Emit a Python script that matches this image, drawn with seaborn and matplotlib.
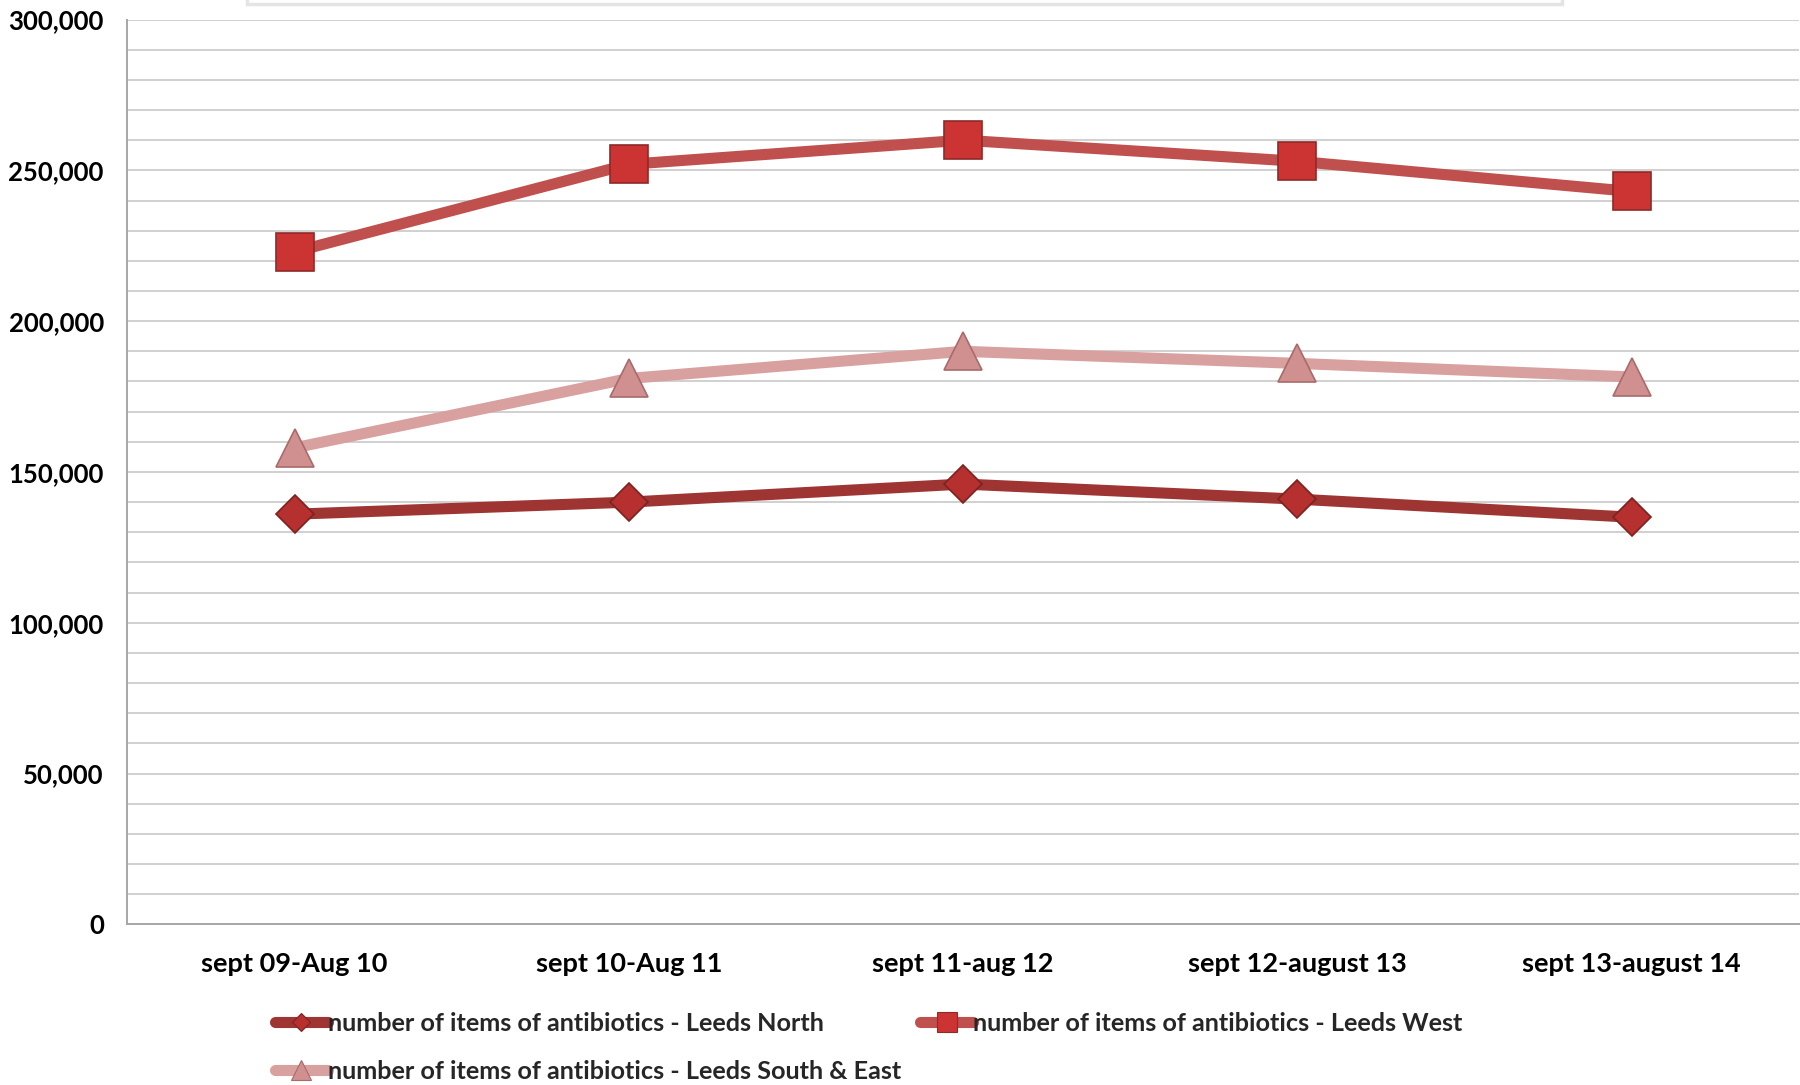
import matplotlib
matplotlib.use("Agg")
import matplotlib.pyplot as plt
import matplotlib.patches as mpatches
from matplotlib.ticker import FuncFormatter, MultipleLocator
import seaborn as sns
import pandas as pd

# Prescribing periods (Sept-Aug years)
periods = ["sept 09-Aug 10", "sept 10-Aug 11", "sept 11-aug 12",
           "sept 12-august 13", "sept 13-august 14"]

# Number of antibiotic items prescribed per locality
leeds_north = [136000, 140000, 146000, 141000, 135000]
leeds_west = [223000, 252000, 260000, 253000, 243000]
leeds_south_east = [158000, 181000, 190000, 186000, 181500]

series_names = ["number of items of antibiotics - Leeds North",
                "number of items of antibiotics - Leeds West",
                "number of items of antibiotics - Leeds South & East"]

sns.set_theme(style="white")
plt.rcParams["font.family"] = ["Lato", "DejaVu Sans"]

frames = []
for name, vals in zip(series_names, [leeds_north, leeds_west, leeds_south_east]):
    frames.append(pd.DataFrame({"period": periods, "items": vals, "series": name}))
df = pd.concat(frames, ignore_index=True)
df["pos"] = df["period"].map({p: i for i, p in enumerate(periods)})

fig = plt.figure(figsize=(18, 10.85), dpi=100)
ax = fig.add_axes([0.0708, 0.148, 0.9285, 0.834])

styles = {
    series_names[0]: dict(color="#9E3532", marker="D", ms=19, mfc="#B5302E", mec="#7E2220"),
    series_names[1]: dict(color="#C0504D", marker="s", ms=28, mfc="#CC3333", mec="#8E2A28"),
    series_names[2]: dict(color="#D9A0A0", marker="^", ms=28, mfc="#D09090", mec="#A86A6A"),
}

handles = {}
for name in series_names:
    st = styles[name]
    sub = df[df["series"] == name]
    sns.lineplot(data=sub, x="pos", y="items", ax=ax, color=st["color"],
                 linewidth=8, marker=st["marker"], markersize=st["ms"],
                 markerfacecolor=st["mfc"], markeredgecolor=st["mec"],
                 markeredgewidth=1.2, legend=False, zorder=3)
    handles[name] = plt.Line2D([], [], color=st["color"], linewidth=8,
                               solid_capstyle="round", marker=st["marker"],
                               markersize=st["ms"] * 0.5, markerfacecolor=st["mfc"],
                               markeredgecolor=st["mec"], markeredgewidth=0.8)

ax.set_xlim(-0.5, 4.5)
ax.set_ylim(0, 300000)
ax.set_xticks(range(len(periods)))
ax.set_xticklabels(periods)
ax.yaxis.set_major_locator(MultipleLocator(50000))
ax.yaxis.set_minor_locator(MultipleLocator(10000))
ax.yaxis.set_major_formatter(FuncFormatter(lambda v, p: f"{int(v):,}"))
ax.grid(axis="y", which="both", color="#D0D0D0", linewidth=1.4, zorder=0)
ax.set_axisbelow(True)
ax.set_xlabel("")
ax.set_ylabel("")
for side in ["top", "right"]:
    ax.spines[side].set_visible(False)
for side in ["left", "bottom"]:
    ax.spines[side].set_color("#A6A6A6")
    ax.spines[side].set_linewidth(1.4)
ax.tick_params(axis="both", which="both", length=0, colors="black")
ax.tick_params(axis="y", labelsize=18.5, pad=17)
ax.tick_params(axis="x", labelsize=19.5, pad=20)
for lbl in ax.get_xticklabels() + ax.get_yticklabels():
    lbl.set_fontweight("bold")

# column-major fill: North / South & East in column one, West in column two
order = [series_names[0], series_names[2], series_names[1]]
leg = fig.legend([handles[n] for n in order], order, loc="upper left", ncol=2,
                 bbox_to_anchor=(0.147, 0.077), frameon=False,
                 handlelength=2.1, handletextpad=0.0,
                 columnspacing=0.75, labelspacing=1.0, borderaxespad=0,
                 prop={"weight": "bold", "size": 18.2})

# faint shadowed box clipped at the top edge
fig.patches.append(mpatches.Rectangle((0.137, 0.996), 0.731, 0.03, transform=fig.transFigure,
                                      facecolor="white", edgecolor="#E4E4E4", linewidth=2.5))

fig.savefig("out.png", dpi=100)
